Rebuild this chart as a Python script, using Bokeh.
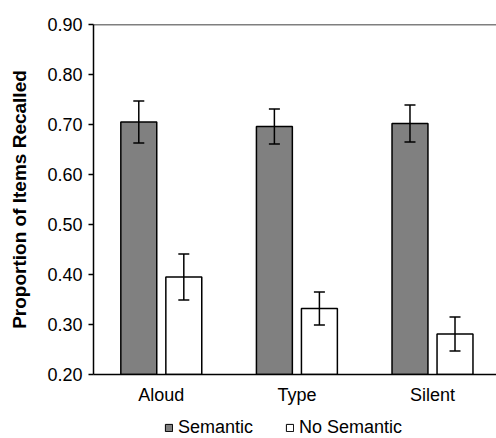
from bokeh.plotting import figure
from bokeh.layouts import column
from bokeh.models import (Range1d, FixedTicker, NumeralTickFormatter,
                          Whisker, TeeHead, ColumnDataSource, Legend, Span)
from bokeh.embed import file_html
from bokeh.resources import INLINE

cats = ["Aloud", "Type", "Silent"]
semantic = [0.705, 0.696, 0.702]
semantic_err = [0.042, 0.035, 0.037]
no_semantic = [0.395, 0.332, 0.281]
no_semantic_err = [0.046, 0.033, 0.034]
y_ticks = [0.20, 0.30, 0.40, 0.50, 0.60, 0.70, 0.80, 0.90]
series_names = ["Semantic", "No Semantic"]

FONT = "Liberation Sans"
OFF = 0.166
BW = 0.265
FILLS = ["#808080", "white"]

xpos = list(range(len(cats)))

src_s = ColumnDataSource(dict(
    x=[i - OFF for i in xpos], top=semantic,
    upper=[v + e for v, e in zip(semantic, semantic_err)],
    lower=[v - e for v, e in zip(semantic, semantic_err)]))
src_n = ColumnDataSource(dict(
    x=[i + OFF for i in xpos], top=no_semantic,
    upper=[v + e for v, e in zip(no_semantic, no_semantic_err)],
    lower=[v - e for v, e in zip(no_semantic, no_semantic_err)]))
sources = [src_s, src_n]

p = figure(width=496, height=408, x_range=Range1d(-0.5, 2.472),
           y_range=Range1d(y_ticks[0], y_ticks[-1]),
           output_backend="svg", toolbar_location=None,
           min_border_left=93, min_border_right=0, min_border_top=24,
           min_border_bottom=34)
p.xgrid.grid_line_color = None
p.ygrid.grid_line_color = None
p.outline_line_color = None
p.background_fill_color = "white"
p.border_fill_color = "white"

for src, fc in zip(sources, FILLS):
    p.vbar(x="x", top="top", bottom=0, width=BW, source=src,
           fill_color=fc, line_color="black", line_width=1.5)

for src in sources:
    w = Whisker(base="x", upper="upper", lower="lower", source=src,
                level="annotation", line_color="black", line_width=1.5,
                upper_head=TeeHead(size=11, line_width=1.5, line_color="black"),
                lower_head=TeeHead(size=11, line_width=1.5, line_color="black"))
    p.add_layout(w)

# x axis
xa = p.xaxis[0]
xa.ticker = FixedTicker(ticks=xpos)
xa.major_label_overrides = {i: c for i, c in zip(xpos, cats)}
xa.major_tick_line_color = None
xa.major_tick_out = 0
xa.major_tick_in = 0
xa.minor_tick_line_color = None
xa.axis_line_width = 1.5
xa.axis_line_color = "black"
xa.major_label_standoff = 10
xa.major_label_text_font = FONT
xa.major_label_text_font_size = "18px"
xa.major_label_text_color = "black"

# y axis
ya = p.yaxis[0]
ya.ticker = FixedTicker(ticks=y_ticks)
ya.formatter = NumeralTickFormatter(format="0.00")
ya.major_tick_out = 5
ya.major_tick_in = 0
ya.major_tick_line_width = 1.5
ya.major_tick_line_color = "black"
ya.minor_tick_line_color = None
ya.axis_line_width = 1.5
ya.axis_line_color = "black"
ya.major_label_standoff = 6
ya.major_label_text_font = FONT
ya.major_label_text_font_size = "18px"
ya.major_label_text_color = "black"
ya.axis_label = "Proportion of Items Recalled"
ya.axis_label_text_font = FONT
ya.axis_label_text_font_size = "19px"
ya.axis_label_text_font_style = "bold"
ya.axis_label_text_color = "black"
ya.axis_label_standoff = 14

# top border line
p.add_layout(Span(location=y_ticks[-1], dimension="width",
                  line_color="black", line_width=1.5))

# legend strip below the chart (bars lie outside this strip's y range)
lf = figure(width=496, height=30, x_range=Range1d(-0.5, 2.472),
            y_range=Range1d(5, 6),
            output_backend="svg", toolbar_location=None,
            min_border_left=0, min_border_right=0, min_border_top=0,
            min_border_bottom=0)
lf.axis.visible = False
lf.grid.visible = False
lf.outline_line_color = None
lf.background_fill_color = "white"
lf.border_fill_color = "white"
items = []
for name, src, fc in zip(series_names, sources, FILLS):
    r = lf.vbar(x="x", top="top", bottom=0, width=BW, source=src,
                fill_color=fc, line_color="black", line_width=1)
    items.append((name, [r]))
legend = Legend(items=items, orientation="horizontal", location=(71, 0),
                glyph_width=9, glyph_height=9, label_standoff=5, spacing=32,
                padding=0, margin=0, border_line_color=None,
                background_fill_alpha=0,
                label_text_font=FONT, label_text_font_size="18px",
                label_text_color="black")
lf.add_layout(legend, "center")

layout = column(p, lf, spacing=0)
open("out.html", "w").write(file_html(layout, INLINE))
